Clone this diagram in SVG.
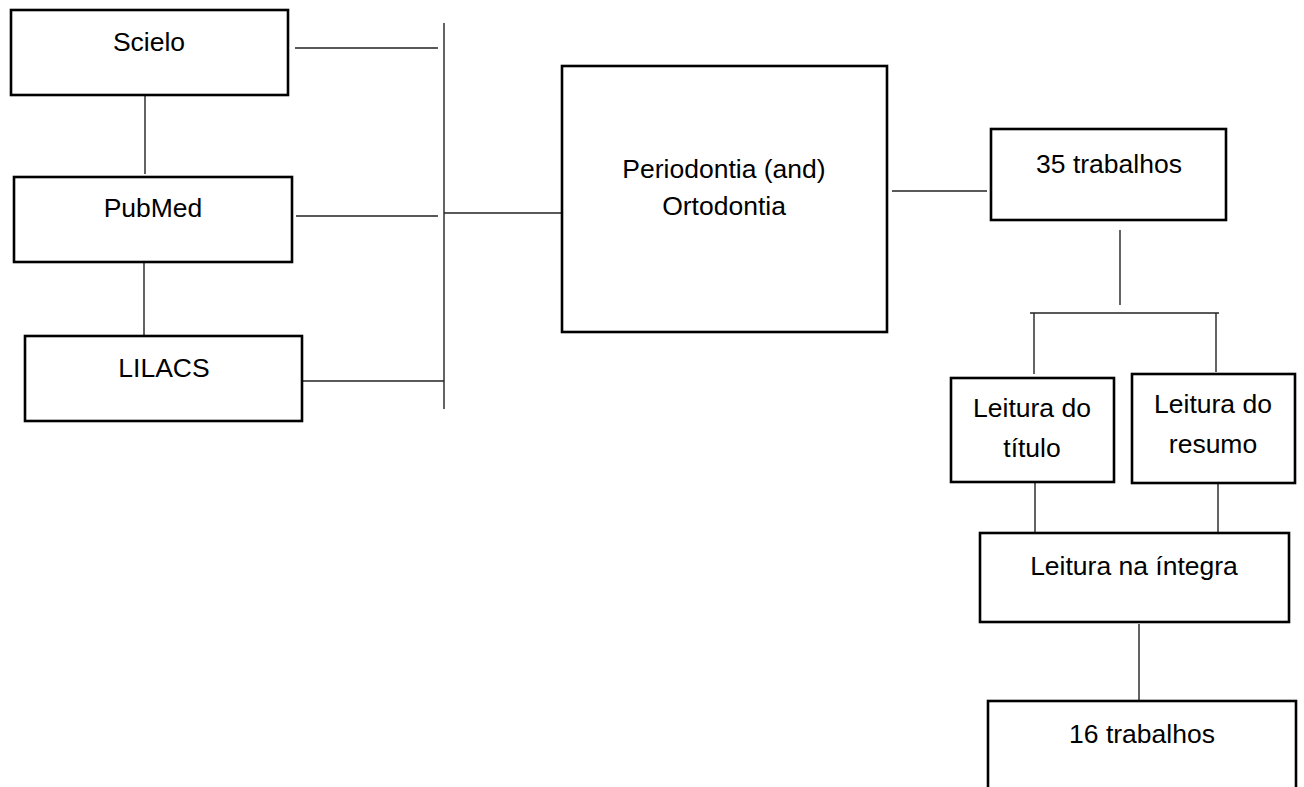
<svg xmlns="http://www.w3.org/2000/svg" width="1304" height="787" viewBox="0 0 1304 787">
<style>
.box{fill:#fff;stroke:#000;stroke-width:2.6}
.ln{stroke:#222;stroke-width:1.4;fill:none}
text{font-family:"Liberation Sans",Arial,sans-serif;font-size:26.5px;fill:#000;text-anchor:middle}
</style>
<rect width="1304" height="787" fill="#fff"/>
<g id="connectors">
<line class="ln" x1="145" y1="96" x2="145" y2="174"/>
<line class="ln" x1="144" y1="262" x2="144" y2="336"/>
<line class="ln" x1="444" y1="23" x2="444" y2="409"/>
<line class="ln" x1="295" y1="48" x2="438" y2="48"/>
<line class="ln" x1="296" y1="216" x2="438" y2="216"/>
<line class="ln" x1="302" y1="381" x2="444" y2="381"/>
<line class="ln" x1="444" y1="213" x2="562" y2="213"/>
<line class="ln" x1="892" y1="191" x2="987" y2="191"/>
<line class="ln" x1="1120" y1="230" x2="1120" y2="305"/>
<line class="ln" x1="1030" y1="313" x2="1219" y2="313"/>
<line class="ln" x1="1034" y1="313" x2="1034" y2="374"/>
<line class="ln" x1="1216" y1="313" x2="1216" y2="372"/>
<line class="ln" x1="1035" y1="482" x2="1035" y2="533"/>
<line class="ln" x1="1218" y1="483" x2="1218" y2="533"/>
<line class="ln" x1="1139" y1="624" x2="1139" y2="700"/>
</g>
<g id="scielo"><rect class="box" x="11" y="10" width="277" height="85"/><text x="149" y="51">Scielo</text></g>
<g id="pubmed"><rect class="box" x="14" y="177" width="278" height="85"/><text x="153" y="217">PubMed</text></g>
<g id="lilacs"><rect class="box" x="25" y="336" width="277" height="85"/><text x="164" y="377">LILACS</text></g>
<g id="periodontia"><rect class="box" x="562" y="66" width="325" height="266"/><text x="724" y="178">Periodontia (and)</text><text x="724" y="215">Ortodontia</text></g>
<g id="trabalhos35"><rect class="box" x="991" y="129" width="235" height="91"/><text x="1109" y="173">35 trabalhos</text></g>
<g id="titulo"><rect class="box" x="951" y="378" width="163" height="104"/><text x="1032" y="417">Leitura do</text><text x="1032" y="457">título</text></g>
<g id="resumo"><rect class="box" x="1132" y="374" width="163" height="109"/><text x="1213" y="413">Leitura do</text><text x="1213" y="453">resumo</text></g>
<g id="integra"><rect class="box" x="980" y="533" width="309" height="89"/><text x="1134" y="575">Leitura na íntegra</text></g>
<g id="trabalhos16"><rect class="box" x="988" y="701" width="308" height="100"/><text x="1142" y="743">16 trabalhos</text></g>
</svg>
